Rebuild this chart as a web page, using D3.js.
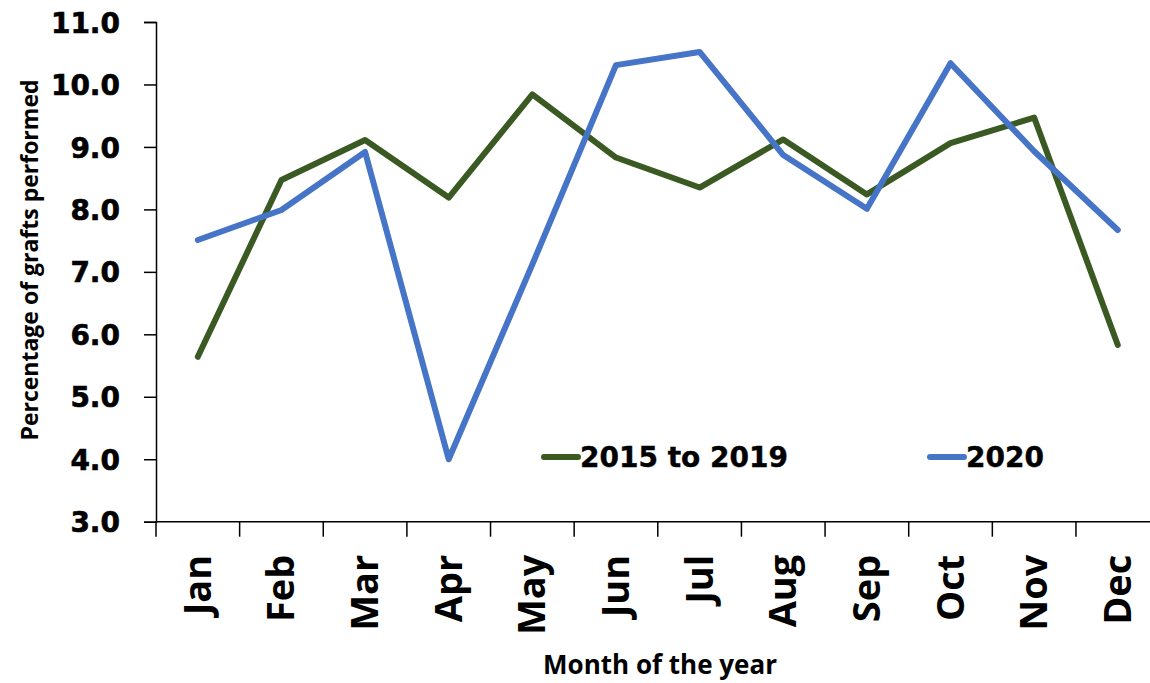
<!DOCTYPE html>
<html>
<head>
<meta charset="utf-8">
<script src="https://cdn.jsdelivr.net/npm/d3@7"></script>
<style>
  html, body { margin: 0; padding: 0; background: #fff; }
  svg text { fill: #000; }
</style>
</head>
<body>
<div id="chart"></div>
<script>
const months = ["Jan", "Feb", "Mar", "Apr", "May", "Jun", "Jul", "Aug", "Sep", "Oct", "Nov", "Dec"];
const avg2015to2019 = [5.64, 8.47, 9.11, 8.19, 9.84, 8.83, 8.35, 9.12, 8.24, 9.06, 9.47, 5.83];
const year2020 = [7.51, 7.99, 8.92, 4.0, 7.12, 10.31, 10.52, 8.87, 8.01, 10.34, 8.93, 7.67];
const yTicks = [3, 4, 5, 6, 7, 8, 9, 10, 11];
const seriesNames = ["2015 to 2019", "2020"];
const seriesColors = ["#3b5a23", "#4674c6"];

const W = 1150, H = 683;
const M = { top: 22, left: 156, bottom: 161.3 };
const plotRight = 1159.6;

const svg = d3.select("#chart").append("svg")
  .attr("width", W).attr("height", H);

const x = d3.scaleBand().domain(months).range([M.left, plotRight]);
const y = d3.scaleLinear().domain([3, 11]).range([H - M.bottom, M.top]);

// y axis
const yAxis = svg.append("g").attr("transform", `translate(${M.left},0)`)
  .call(d3.axisLeft(y).tickValues(yTicks).tickFormat(d3.format(".1f")).tickSize(12).tickPadding(24));
yAxis.select(".domain").attr("stroke", "#000").attr("stroke-width", 1.5);
yAxis.selectAll(".tick line").attr("stroke", "#000").attr("stroke-width", 1.5);
yAxis.selectAll(".tick text")
  .style("font-family", "'DejaVu Sans', Verdana, sans-serif")
  .style("font-weight", 700).style("font-size", "28px")
  .attr("stroke", "#000").attr("stroke-width", 0.6)
  .attr("dy", "0.36em");

// x axis: ticks at category boundaries
const xAxisG = svg.append("g").attr("transform", `translate(0,${y(3)})`);
xAxisG.append("line").attr("x1", M.left).attr("x2", W).attr("y1", 0).attr("y2", 0)
  .attr("stroke", "#000").attr("stroke-width", 1.5);
xAxisG.selectAll(".xt").data(months).join("line").attr("class", "xt")
  .attr("x1", d => x(d)).attr("x2", d => x(d)).attr("y1", 0).attr("y2", 15)
  .attr("stroke", "#000").attr("stroke-width", 1.5);
xAxisG.selectAll(".xl").data(months).join("text").attr("class", "xl")
  .attr("transform", d => `translate(${x(d) + x.bandwidth() / 2 + 13},33) rotate(-90)`)
  .attr("text-anchor", "end")
  .style("font-family", "'Open Sans', sans-serif")
  .style("font-weight", 700).style("font-size", "38px")
  .text(d => d);

// axis titles
svg.append("text")
  .attr("transform", `translate(38,${(78 + 442) / 2}) rotate(-90)`)
  .attr("text-anchor", "middle")
  .style("font-family", "'Open Sans', sans-serif")
  .style("font-weight", 700).style("font-size", "23px")
  .text("Percentage of grafts performed");

svg.append("text")
  .attr("x", 660).attr("y", 674)
  .attr("text-anchor", "middle")
  .style("font-family", "'Open Sans', sans-serif")
  .style("font-weight", 700).style("font-size", "26px")
  .text("Month of the year");

// lines
const line = d3.line()
  .x((d, i) => x(months[i]) + x.bandwidth() / 2)
  .y(d => y(d));

[avg2015to2019, year2020].forEach((vals, k) => {
  svg.append("path").datum(vals)
    .attr("d", line)
    .attr("fill", "none")
    .attr("stroke", seriesColors[k])
    .attr("stroke-width", 6)
    .attr("stroke-linejoin", "round")
    .attr("stroke-linecap", "round");
});

// legend
const legendPos = [{ x: 544, y: 457 }, { x: 930, y: 457 }];
seriesNames.forEach((name, k) => {
  const lg = svg.append("g").attr("transform", `translate(${legendPos[k].x},${legendPos[k].y})`);
  lg.append("line").attr("x1", 0).attr("x2", 34).attr("y1", 0).attr("y2", 0)
    .attr("stroke", seriesColors[k]).attr("stroke-width", 6).attr("stroke-linecap", "round");
  lg.append("text").attr("x", 36).attr("y", 0).attr("dy", "0.36em")
    .style("font-family", "'DejaVu Sans', Verdana, sans-serif")
    .style("font-weight", 700).style("font-size", "28px")
    .attr("stroke", "#000").attr("stroke-width", 0.4)
    .text(name);
});
</script>
</body>
</html>
